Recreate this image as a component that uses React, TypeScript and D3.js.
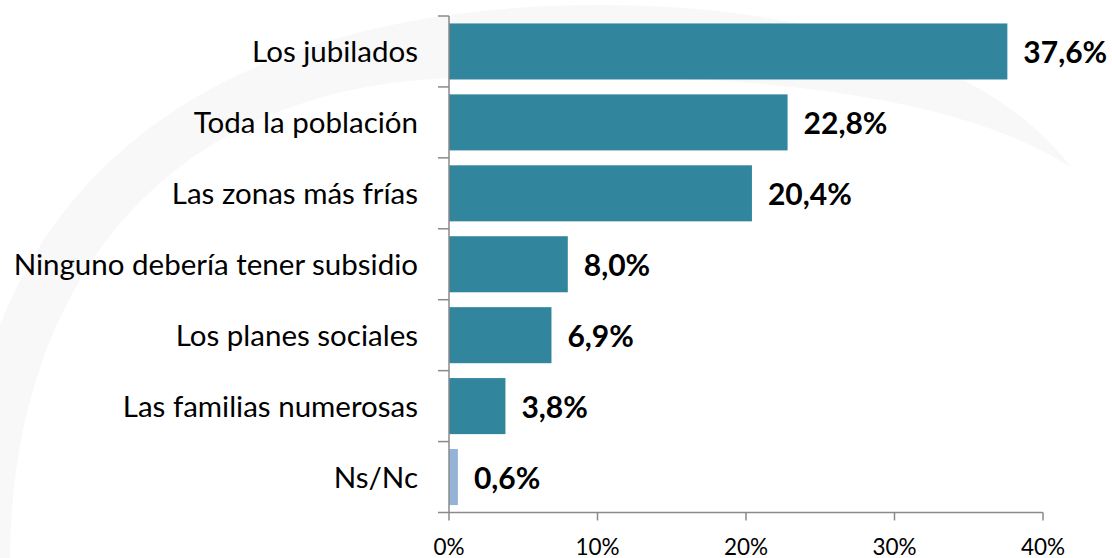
import React from "react"
import * as d3 from "d3"

const categories = [
    "Los jubilados",
    "Toda la población",
    "Las zonas más frías",
    "Ninguno debería tener subsidio",
    "Los planes sociales",
    "Las familias numerosas",
    "Ns/Nc",
]
const values = [37.6, 22.8, 20.4, 8.0, 6.9, 3.8, 0.6]
const xTicks = [0, 10, 20, 30, 40]

const width = 1112
const height = 558
const margin = {top: 16, right: 69, bottom: 45.5, left: 449}

const barColor = "#31859c"
const otherColor = "#95b3d7"
const axisColor = "#8a8a8a"
const font = "Lato, 'Open Sans', sans-serif"

const fmt = (v: number) => v.toFixed(1).replace(".", ",") + "%"

const App = () => {
    const xScale = d3.scaleLinear()
        .domain([0, 40])
        .range([margin.left, width - margin.right])
    const yScale = d3.scaleBand<string>()
        .domain(categories)
        .range([margin.top, height - margin.bottom])
        .paddingInner(0.21)
        .paddingOuter(0.105)

    const step = yScale.step()
    const y0 = margin.top
    const yEnd = height - margin.bottom
    const boundaries = d3.range(categories.length + 1).map(i => y0 + i * step)

    // faint decorative swoosh in the background
    const swoosh = "M10,558 C12,300 150,90 450,78 C750,68 960,95 1072,168 " +
        "C985,55 800,5 600,5 C250,5 -40,150 -40,558 Z"

    return (
        <svg width={width} height={height}
             style={{position: "absolute", left: 0, top: 0, background: "#fff"}}>
            <path d={swoosh} fill="#f8f8f8"/>

            {/* bars */}
            {categories.map((c, i) => (
                <rect key={c}
                      x={xScale(0)}
                      y={yScale(c)}
                      width={xScale(values[i]) - xScale(0)}
                      height={yScale.bandwidth()}
                      fill={c === "Ns/Nc" ? otherColor : barColor}/>
            ))}

            {/* value labels */}
            {categories.map((c, i) => (
                <text key={c}
                      x={xScale(values[i]) + 16}
                      y={(yScale(c) ?? 0) + yScale.bandwidth() / 2 + 12}
                      fontFamily={font} fontSize={30} fontWeight="bold" fill="#000">
                    {fmt(values[i])}
                </text>
            ))}

            {/* y axis */}
            <line x1={margin.left} x2={margin.left} y1={y0} y2={yEnd}
                  stroke={axisColor} strokeWidth={1.5}/>
            {boundaries.map((b, i) => (
                <line key={i} x1={margin.left - 11} x2={margin.left} y1={b} y2={b}
                      stroke={axisColor} strokeWidth={1.5}/>
            ))}
            {categories.map(c => (
                <text key={c}
                      x={margin.left - 31}
                      y={(yScale(c) ?? 0) + yScale.bandwidth() / 2 + 10.5}
                      textAnchor="end"
                      fontFamily={font} fontSize={29.5} fill="#000">
                    {c}
                </text>
            ))}

            {/* x axis */}
            <line x1={margin.left} x2={xScale(40)} y1={yEnd} y2={yEnd}
                  stroke={axisColor} strokeWidth={1.5}/>
            {xTicks.map(t => (
                <g key={t}>
                    <line x1={xScale(t)} x2={xScale(t)} y1={yEnd} y2={yEnd + 8}
                          stroke={axisColor} strokeWidth={1.5}/>
                    <text x={xScale(t)} y={yEnd + 42} textAnchor="middle"
                          fontFamily={font} fontSize={22.5} fill="#000">
                        {t + "%"}
                    </text>
                </g>
            ))}
        </svg>
    )
}

export default App
